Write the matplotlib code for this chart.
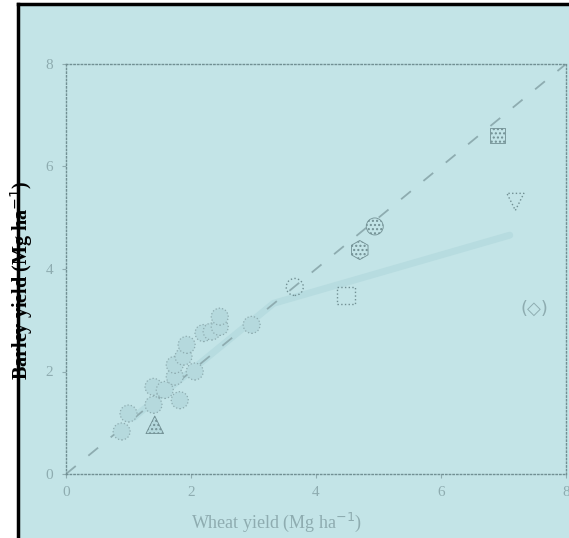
import matplotlib.pyplot as plt
from matplotlib.patches import Rectangle
from matplotlib.lines import Line2D

# wheat vs barley yield, site means (Mg/ha)
wheat_sites = [0.89, 1.00, 1.40, 1.40, 1.58, 1.82, 1.74, 1.74, 1.88, 1.93,
               2.06, 2.20, 2.33, 2.46, 2.46, 2.97]
barley_sites = [0.83, 1.18, 1.35, 1.70, 1.64, 1.44, 1.90, 2.13, 2.29, 2.52,
                2.00, 2.75, 2.78, 2.87, 3.07, 2.91]

# single observations with their own symbols
tri_up = (1.42, 0.96)
open_circle = (3.66, 3.65)
open_square = (4.48, 3.49)
dot_circle = (4.94, 4.83)
dot_hexagon = (4.70, 4.37)
dot_square = (6.91, 6.60)
tri_down = (7.19, 5.31)
paren_diamond = (7.50, 3.22)

# fitted response (broken-stick)
fit_x = [1.08, 3.32, 7.10]
fit_y = [1.10, 3.33, 4.66]

ticks = [0, 2, 4, 6, 8]

bg = '#c3e4e7'
grey = '#8eacb0'
dark = '#718f93'
fill = '#b5d9dd'

W, H = 569, 538
fig = plt.figure(figsize=(W / 100, H / 100), dpi=100, facecolor='white')

# shaded panel with black frame on left and top
fig.patches.append(Rectangle((18 / W, 0), 1 - 18 / W, 1 - 4 / H,
                             transform=fig.transFigure, facecolor=bg,
                             edgecolor='none', zorder=-10))
fig.lines.append(Line2D([18 / W, 18 / W], [0, 1 - 4 / H], transform=fig.transFigure,
                        color='black', lw=2.5, zorder=5))
fig.lines.append(Line2D([18 / W, 1], [1 - 4 / H, 1 - 4 / H], transform=fig.transFigure,
                        color='black', lw=2.5, zorder=5))

ax = fig.add_axes([66 / W, (H - 474) / H, 500 / W, 410 / H])
ax.set_facecolor('none')
ax.set_xlim(0, 8)
ax.set_ylim(0, 8)

for s in ax.spines.values():
    s.set_linestyle(':')
    s.set_color(dark)
    s.set_linewidth(1.0)

# 1:1 line
ax.plot([0, 8], [0, 8], color=grey, lw=1.3, linestyle=(0, (7, 9)), zorder=2)
# fitted line
ax.plot(fit_x, fit_y, color='#b7dce0', lw=5, solid_capstyle='round', zorder=1)

ax.scatter(wheat_sites, barley_sites, s=150, facecolor=fill, edgecolor=grey,
           linewidths=0.9, linestyles=':', zorder=3)
ax.scatter(*tri_up, marker='^', s=160, facecolor=fill, edgecolor=dark,
           hatch='....', linewidths=0.6, zorder=3)
ax.scatter(*open_circle, marker='o', s=150, facecolor='none', edgecolor=dark,
           linewidths=1.0, linestyles=':', zorder=3)
ax.scatter(*open_square, marker='s', s=150, facecolor='none', edgecolor=dark,
           linewidths=1.0, linestyles=':', zorder=3)
ax.scatter(*dot_circle, marker='o', s=150, facecolor=bg, edgecolor=dark,
           hatch='....', linewidths=0.6, zorder=3)
ax.scatter(*dot_hexagon, marker='h', s=190, facecolor=bg, edgecolor=dark,
           hatch='....', linewidths=0.6, zorder=3)
ax.scatter(*dot_square, marker='s', s=120, facecolor=bg, edgecolor=dark,
           hatch='....', linewidths=0.6, zorder=3)
ax.scatter(*tri_down, marker='v', s=150, facecolor='none', edgecolor=dark,
           linewidths=1.0, linestyles=':', zorder=3)
ax.text(*paren_diamond, '(\u25c7)', color=grey, fontsize=13, ha='center',
        va='center', family='DejaVu Sans')

ax.set_xticks(ticks)
ax.set_yticks(ticks)
ax.tick_params(direction='out', length=3, width=0.8, color=grey, labelcolor=grey,
               labelsize=11, pad=6)
for lab in ax.get_xticklabels() + ax.get_yticklabels():
    lab.set_family('Liberation Serif')

ax.set_xlabel('Wheat yield (Mg ha$^{-1}$)', color=grey, fontsize=13,
              family='Liberation Serif')
ax.xaxis.set_label_coords(0.42, -0.117)
ax.xaxis.label.set_va('center')

fig.text(22 / W, 1 - 280 / H, 'Barley yield (Mg ha$^{-1}$)', rotation=90,
         ha='center', va='center', fontsize=14.5, fontweight='bold',
         family='Liberation Serif', color='black', zorder=6)

fig.savefig('out.png', dpi=100, facecolor='white')
